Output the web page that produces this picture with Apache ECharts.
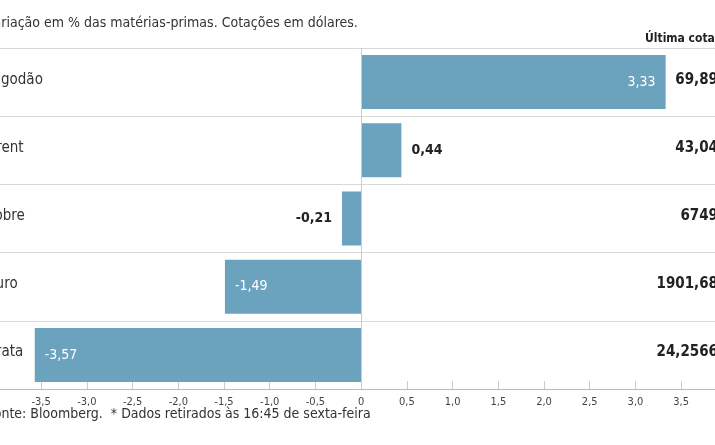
<!DOCTYPE html>
<html><head><meta charset="utf-8">
<script src="https://cdn.jsdelivr.net/npm/echarts@6/dist/echarts.min.js"></script>
<style>html,body{margin:0;padding:0;background:#fff}#c{width:715px;height:445px}</style>
</head><body><div id="c"></div>
<script>
const FONT = '"Liberation Sans Narrow", "DejaVu Sans Condensed", sans-serif'
const categories = ['Algodão', 'Brent', 'Cobre', 'Ouro', 'Prata']
const changes = [3.33, 0.44, -0.21, -1.49, -3.57]
const lastQuotes = ['69,89', '43,04', '6749', '1901,68', '24,2566']
const tickValues = [-3.5, -3, -2.5, -2, -1.5, -1, -0.5, 0, 0.5, 1, 1.5, 2, 2.5, 3, 3.5]

let chart = echarts.init(document.getElementById('c'))
const fmt = v => String(v).replace('.', ',')
const tickFmt = v => (Number.isInteger(v) && v !== 0 ? v.toFixed(1) : String(v)).replace('.', ',')

const data = changes.map(v => {
    let big = Math.abs(v) > 1
    return {
        value: v,
        label: {
            show: true,
            position: big ? (v > 0 ? 'insideRight' : 'insideLeft') : (v > 0 ? 'right' : 'left'),
            distance: 10,
            color: big ? '#fff' : '#222',
            fontWeight: big ? 'normal' : 'bold',
            fontSize: 14,
            fontFamily: FONT,
            formatter: p => fmt(p.value)
        }
    }
})

const rowTop = 48, rowH = 68
let texts = [
    {type: 'text', left: -14, top: 16, style: {text: 'Variação em % das matérias-primas. Cotações em dólares.', font: '14px ' + FONT, fill: '#333'}},
    {type: 'text', left: 645, top: 33, style: {text: 'Última cotação*', font: 'bold 12px ' + FONT, fill: '#222'}},
    {type: 'text', left: -13, top: 407, style: {text: 'Fonte: Bloomberg.  * Dados retirados às 16:45 de sexta-feira', font: '14px ' + FONT, fill: '#333'}}
]
const cutoffs = [12, 13, 15, 15, 12]
categories.forEach((c, i) => {
    let cy = rowTop + rowH * i + rowH / 2
    texts.push({type: 'text', left: -cutoffs[i], top: cy - 9, style: {text: c, font: '15px ' + FONT, fill: '#333'}})
    texts.push({type: 'text', right: -3, top: cy - 9, style: {text: lastQuotes[i], font: 'bold 15px ' + FONT, fill: '#222', align: 'right'}})
})

chart.setOption({
    animation: false,
    grid: {left: 0, right: 0, top: rowTop, bottom: 56},
    xAxis: {
        type: 'value', min: -3.95, max: 3.87,
        axisLine: {show: true, onZero: false, lineStyle: {color: '#bbb'}},
        axisTick: {show: true, inside: true, length: 8, lineStyle: {color: '#ccc'}, customValues: tickValues},
        axisLabel: {color: '#444', fontSize: 11, fontFamily: FONT, customValues: tickValues, formatter: tickFmt},
        splitLine: {show: false}
    },
    yAxis: {
        type: 'category', data: categories, inverse: true,
        axisLine: {show: false}, axisTick: {show: false}, axisLabel: {show: false},
        splitLine: {show: true, lineStyle: {color: '#d8d8d8'}}
    },
    graphic: texts,
    series: [{
        type: 'bar', data: data, barWidth: 54,
        itemStyle: {color: '#6ba3bf'},
        markLine: {
            silent: true, symbol: 'none', label: {show: false},
            lineStyle: {color: '#ccc', type: 'solid', width: 1},
            data: [{xAxis: 0}]
        }
    }]
})
</script></body></html>
